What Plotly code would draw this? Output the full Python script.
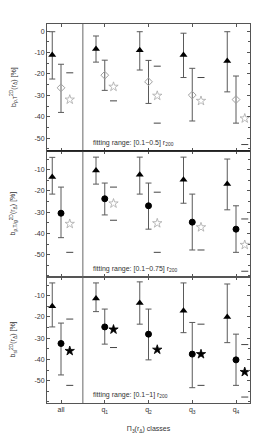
import plotly.graph_objects as go
from plotly.subplots import make_subplots

# ---------------- data ----------------
categories = ["all", "q<sub>1</sub>", "q<sub>2</sub>", "q<sub>3</sub>", "q<sub>4</sub>"]
cat_pos = [0, 1, 2, 3, 4]

# panel 1 : fitting range [0.1-0.5] r200
p1_tri = [-11.2, -8.4, -9.0, -11.2, -14.0]
p1_tri_hi = [-0.3, -2.3, -0.3, -1.0, -0.3]
p1_tri_lo = [-22.4, -14.5, -18.2, -21.7, -28.4]
p1_mid = [-26.5, -20.6, -23.7, -29.9, -32.0]
p1_mid_hi = [-15.5, -13.6, -13.7, -17.4, -21.0]
p1_mid_lo = [-38.0, -27.7, -33.8, -42.0, -43.0]
p1_star = [-32.0, -26.0, -30.2, -32.6, -40.8]
p1_cap_x = [0, 1, 2, 2, 3, 4]
p1_cap_y = [-19.5, -32.6, -16.4, -43.0, -21.7, -53.0]

# panel 2 : fitting range [0.1-0.75] r200
p2_tri = [-13.5, -10.4, -12.4, -14.8, -16.7]
p2_tri_hi = [-4.2, -4.1, -4.1, -4.1, -5.0]
p2_tri_lo = [-21.5, -16.8, -21.5, -25.8, -28.9]
p2_mid = [-30.5, -23.7, -27.0, -34.7, -38.0]
p2_mid_hi = [-18.2, -16.3, -16.3, -21.5, -27.0]
p2_mid_lo = [-42.0, -31.3, -38.0, -47.8, -48.9]
p2_star = [-35.5, -25.9, -35.2, -37.1, -45.4]
p2_cap_x = [0, 1, 1, 2, 2, 3, 4, 4]
p2_cap_y = [-48.9, -18.2, -33.8, -20.6, -48.9, -47.8, -33.2, -57.8]

# panel 3 : fitting range [0.1-1] r200
p3_tri = [-15.0, -11.3, -13.5, -17.1, -20.0]
p3_tri_hi = [-4.0, -4.0, -3.5, -4.0, -4.5]
p3_tri_lo = [-24.7, -17.5, -23.4, -27.4, -32.1]
p3_mid = [-32.5, -24.7, -28.1, -37.5, -40.2]
p3_mid_hi = [-22.9, -16.3, -16.3, -22.6, -28.1]
p3_mid_lo = [-47.3, -32.8, -40.2, -53.3, -52.2]
p3_star = [-36.0, -25.9, -35.4, -37.5, -45.9]
p3_cap_x = [0, 0, 1, 3, 3, 4, 4]
p3_cap_y = [-21.0, -52.2, -34.4, -23.4, -52.2, -33.0, -57.7]

fit_labels = ["fitting range: [0.1−0.5] r<sub>200</sub>",
              "fitting range: [0.1−0.75] r<sub>200</sub>",
              "fitting range: [0.1−1] r<sub>200</sub>"]
ytitles = ["b<sub>ρ,T</sub><sup>2D</sup>(r<sub>Δ</sub>) [%]",
           "b<sub>ρ,T/g</sub><sup>2D</sup>(r<sub>Δ</sub>) [%]",
           "b<sub>sl</sub><sup>2D</sup>(r<sub>Δ</sub>) [%]"]
yranges = [[-56, 3.3], [-60.5, -1.2], [-60.5, -1.2]]
yticks = [[0, -10, -20, -30, -40, -50], [-10, -20, -30, -40, -50], [-10, -20, -30, -40, -50]]

OFF = 0.2
FONT = "Liberation Sans, Arial, sans-serif"
ERRC = "#5a5a5a"

panels = [
    dict(tri=p1_tri, thi=p1_tri_hi, tlo=p1_tri_lo, mid=p1_mid, mhi=p1_mid_hi, mlo=p1_mid_lo,
         star=p1_star, cx=p1_cap_x, cy=p1_cap_y,
         mid_sym="diamond-open", mid_col="#a0a0a0", mid_size=6,
         star_sym="star-open", star_col="#a8a8a8"),
    dict(tri=p2_tri, thi=p2_tri_hi, tlo=p2_tri_lo, mid=p2_mid, mhi=p2_mid_hi, mlo=p2_mid_lo,
         star=p2_star, cx=p2_cap_x, cy=p2_cap_y,
         mid_sym="circle", mid_col="black", mid_size=6,
         star_sym="star-open", star_col="#a8a8a8"),
    dict(tri=p3_tri, thi=p3_tri_hi, tlo=p3_tri_lo, mid=p3_mid, mhi=p3_mid_hi, mlo=p3_mid_lo,
         star=p3_star, cx=p3_cap_x, cy=p3_cap_y,
         mid_sym="circle", mid_col="black", mid_size=6,
         star_sym="star", star_col="black"),
]

fig = make_subplots(rows=3, cols=1, shared_xaxes=True, vertical_spacing=0)

def err(vals, hi, lo):
    return dict(type="data", symmetric=False,
                array=[h - v for v, h in zip(vals, hi)],
                arrayminus=[v - l for v, l in zip(vals, lo)],
                color=ERRC, thickness=1, width=3)

for i, p in enumerate(panels):
    r = i + 1
    fig.add_trace(go.Scatter(x=[c - OFF for c in cat_pos], y=p["tri"], mode="markers",
                             marker=dict(symbol="triangle-up", size=7, color="black"),
                             error_y=err(p["tri"], p["thi"], p["tlo"]), showlegend=False), row=r, col=1)
    fig.add_trace(go.Scatter(x=cat_pos, y=p["mid"], mode="markers",
                             marker=dict(symbol=p["mid_sym"], size=p["mid_size"], color=p["mid_col"],
                                         line=dict(width=1, color=p["mid_col"])),
                             error_y=err(p["mid"], p["mhi"], p["mlo"]), showlegend=False), row=r, col=1)
    fig.add_trace(go.Scatter(x=[c + OFF for c in cat_pos], y=p["star"], mode="markers",
                             marker=dict(symbol=p["star_sym"], size=7, color=p["star_col"],
                                         line=dict(width=0.8, color=p["star_col"])),
                             showlegend=False), row=r, col=1)
    fig.add_trace(go.Scatter(x=[c + OFF for c in p["cx"]], y=p["cy"], mode="markers",
                             marker=dict(symbol="line-ew", size=5, color="#444",
                                         line=dict(width=1, color="#444")),
                             showlegend=False), row=r, col=1)

doms = [[0.665, 1.0], [0.3325, 0.665], [0.0, 0.3325]]
for i in range(3):
    r = i + 1
    fig.update_yaxes(row=r, col=1, range=yranges[i], domain=doms[i], automargin=False,
                     tickvals=yticks[i], ticktext=[str(v) for v in yticks[i]],
                     ticks="inside", ticklen=3, tickcolor="#555",
                     minor=dict(dtick=5, ticks="inside", ticklen=2, tickcolor="#555"),
                     showline=True, linecolor="#555", linewidth=1, mirror="allticks",
                     showgrid=False, zeroline=False,
                     tickfont=dict(family=FONT, size=7, color="#333"))
    fig.update_xaxes(row=r, col=1, range=[-0.32, 4.32], tickvals=cat_pos, ticktext=categories,
                     automargin=False,
                     ticks="inside", ticklen=3, tickcolor="#555",
                     showline=True, linecolor="#555", linewidth=1, mirror="allticks",
                     showgrid=False, zeroline=False, showticklabels=(r == 3),
                     tickfont=dict(family=FONT, size=7, color="#333"))
    xref = "x" if r == 1 else f"x{r}"
    yref = "y" if r == 1 else f"y{r}"
    fig.add_shape(type="line", xref=xref, yref=f"{yref} domain", x0=0.5, x1=0.5, y0=0, y1=1,
                  line=dict(color="#666", width=1))
    fig.add_annotation(xref=xref, yref=f"{yref} domain", x=0.68, y=0.015, xanchor="left",
                       yanchor="bottom", text=fit_labels[i], showarrow=False,
                       font=dict(family=FONT, size=7, color="#333"))
    ymid = (doms[i][0] + doms[i][1]) / 2
    fig.add_annotation(xref="paper", yref="paper", x=-0.165, y=ymid, textangle=-90,
                       text=ytitles[i], showarrow=False, xanchor="center", yanchor="middle",
                       font=dict(family=FONT, size=7, color="#333"))

# darker boundary between the first and second panel
fig.add_shape(type="line", xref="paper", yref="y domain", x0=0, x1=1, y0=0, y1=0,
              line=dict(color="#111", width=1.2))

fig.update_xaxes(row=3, col=1, title=dict(text="Π<sub>3</sub>(r<sub>Δ</sub>) classes",
                                          font=dict(family=FONT, size=7, color="#333"), standoff=12))

# the page body adds an 8 px margin, so the figure is sized to fit inside it
fig.update_layout(width=243, height=431, margin=dict(l=39, r=1, t=16, b=36),
                  paper_bgcolor="white", plot_bgcolor="white",
                  font=dict(family=FONT, size=7, color="#333"), showlegend=False)

fig.write_html("out.html")
